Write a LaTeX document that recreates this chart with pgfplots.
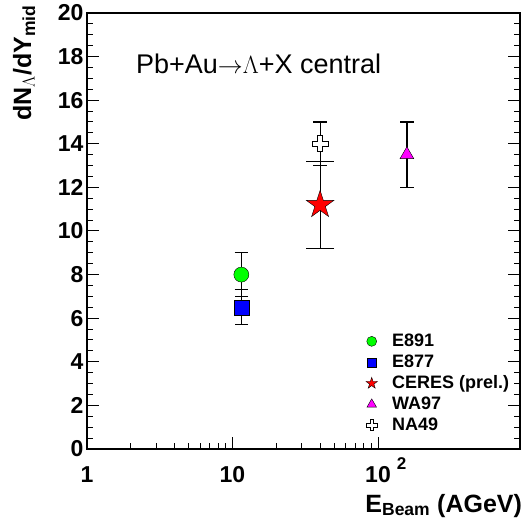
\documentclass[border=0pt]{standalone}
\usepackage{pgfplots}
\pgfplotsset{compat=1.18}
\usepackage{fontspec}
\setmainfont{Liberation Sans}

\pgfdeclareplotmark{opencross}{%
  \pgfpathmoveto{\pgfqpoint{-0.32\pgfplotmarksize}{\pgfplotmarksize}}%
  \pgfpathlineto{\pgfqpoint{0.32\pgfplotmarksize}{\pgfplotmarksize}}%
  \pgfpathlineto{\pgfqpoint{0.32\pgfplotmarksize}{0.32\pgfplotmarksize}}%
  \pgfpathlineto{\pgfqpoint{\pgfplotmarksize}{0.32\pgfplotmarksize}}%
  \pgfpathlineto{\pgfqpoint{\pgfplotmarksize}{-0.32\pgfplotmarksize}}%
  \pgfpathlineto{\pgfqpoint{0.32\pgfplotmarksize}{-0.32\pgfplotmarksize}}%
  \pgfpathlineto{\pgfqpoint{0.32\pgfplotmarksize}{-\pgfplotmarksize}}%
  \pgfpathlineto{\pgfqpoint{-0.32\pgfplotmarksize}{-\pgfplotmarksize}}%
  \pgfpathlineto{\pgfqpoint{-0.32\pgfplotmarksize}{-0.32\pgfplotmarksize}}%
  \pgfpathlineto{\pgfqpoint{-\pgfplotmarksize}{-0.32\pgfplotmarksize}}%
  \pgfpathlineto{\pgfqpoint{-\pgfplotmarksize}{0.32\pgfplotmarksize}}%
  \pgfpathlineto{\pgfqpoint{-0.32\pgfplotmarksize}{0.32\pgfplotmarksize}}%
  \pgfpathclose
  \pgfusepathqfillstroke}

\pgfdeclareplotmark{fstar}{%
  \pgfpathmoveto{\pgfpointpolar{90}{\pgfplotmarksize}}%
  \pgfpathlineto{\pgfpointpolar{126}{0.382\pgfplotmarksize}}%
  \pgfpathlineto{\pgfpointpolar{162}{\pgfplotmarksize}}%
  \pgfpathlineto{\pgfpointpolar{198}{0.382\pgfplotmarksize}}%
  \pgfpathlineto{\pgfpointpolar{234}{\pgfplotmarksize}}%
  \pgfpathlineto{\pgfpointpolar{270}{0.382\pgfplotmarksize}}%
  \pgfpathlineto{\pgfpointpolar{306}{\pgfplotmarksize}}%
  \pgfpathlineto{\pgfpointpolar{342}{0.382\pgfplotmarksize}}%
  \pgfpathlineto{\pgfpointpolar{18}{\pgfplotmarksize}}%
  \pgfpathlineto{\pgfpointpolar{54}{0.382\pgfplotmarksize}}%
  \pgfpathclose
  \pgfusepathqfillstroke}

\definecolor{rgreen}{RGB}{0,255,0}
\definecolor{rblue}{RGB}{0,0,255}
\definecolor{rred}{RGB}{255,0,0}
\definecolor{rmag}{RGB}{255,0,255}

\begin{document}
\begin{tikzpicture}
\useasboundingbox (-87pt,-76pt) rectangle (436pt,449pt);
\begin{semilogxaxis}[
  scale only axis, width=433pt, height=436pt,
  at={(0pt,0pt)}, anchor=south west,
  xmin=1, xmax=946, ymin=0, ymax=20,
  xtick={1,10,100},
  xticklabels={1,10,10\rlap{\hspace{6pt}\raisebox{13pt}[0pt][0pt]{\fontsize{17}{19}\selectfont 2}}},
  ytick={0,2,...,20},
  minor ytick={0.5,1,...,19.5},
  xtick pos=lower, ytick pos=both,
  tick align=inside,
  major tick length=12pt, minor tick length=6pt,
  every tick/.style={black, line width=1pt},
  axis line style={line width=1.2pt},
  /pgf/number format/assume math mode=true,
  tick label style={font=\fontsize{23}{26}\selectfont\bfseries},
  xticklabel style={yshift=-14pt},
  xlabel={E\textsubscript{Beam} (AGeV)},
  xlabel style={font=\fontsize{25}{28}\selectfont\bfseries, inner sep=0pt,
    at={(axis description cs:1.005,-0.1445)}, anchor=base east},
  ylabel={dN\textsubscript{$\Lambda$}/dY\textsubscript{mid}},
  ylabel style={font=\fontsize{25}{28}\selectfont\bfseries, inner sep=0pt,
    at={(axis description cs:-0.1293,1.018)}, anchor=base east},
  legend style={draw=none, fill=none, inner sep=0pt,
    at={(axis description cs:0.64,0.268)}, anchor=north west,
    font=\fontsize{18}{20}\selectfont\bfseries,
    nodes={inner sep=1pt, text height=13pt, text depth=3pt},
    row sep=3pt},
  legend cell align=left,
  legend image code/.code={\path (-7pt,0pt) (19pt,0pt); \draw[#1] plot coordinates {(0pt,0pt)};},
  error bars/y dir=both, error bars/y explicit,
  error bars/error bar style={line width=1.2pt, black},
  error bars/error mark options={rotate=90, mark size=6.7pt, line width=1.2pt, black},
]
\addlegendimage{only marks, mark=*, mark size=5pt, draw=black, fill=rgreen}
\addlegendentry{E891}
\addlegendimage{only marks, mark=square*, mark size=4.5pt, draw=black, fill=rblue}
\addlegendentry{E877}
\addlegendimage{only marks, mark=fstar, mark size=6pt, draw=black, fill=rred}
\addlegendentry{CERES (prel.)}
\addlegendimage{only marks, mark=triangle*, mark size=5.5pt, draw=black, fill=rmag}
\addlegendentry{WA97}
\addlegendimage{only marks, mark=opencross, mark size=5.5pt, draw=black, fill=white, line width=0.8pt}
\addlegendentry{NA49}

% E891
\addplot[forget plot, only marks, mark=*, mark size=7.5pt, draw=black, fill=rgreen]
  coordinates {(11.5,8.0) +- (0,1.0)};
% E877
\addplot[forget plot, only marks, mark=square*, mark size=7.5pt, draw=black, fill=rblue]
  coordinates {(11.5,6.5) +- (0,0.8)};
% NA49
\addplot[forget plot, only marks, mark=opencross, mark size=8pt, draw=black, fill=white, line width=1pt]
  coordinates {(40,14.0) +- (0,1.0)};
% CERES
\addplot[forget plot, only marks, mark=fstar, mark size=14.5pt, draw=black, fill=rred,
  error bars/error mark options={rotate=90, mark size=14pt, line width=1.2pt, black}]
  coordinates {(40,11.2) +- (0,2.0)};
% WA97
\addplot[forget plot, only marks, mark=triangle*, mark size=8pt, draw=black, fill=rmag]
  coordinates {(158,13.5) +- (0,1.5)};

\node[anchor=base west, inner sep=0pt, font=\fontsize{27}{30}\selectfont]
  at (axis description cs:0.113,0.862) {Pb+Au$\mathord{\rightarrow}\Lambda$+X central};
\end{semilogxaxis}
\end{tikzpicture}
\end{document}
